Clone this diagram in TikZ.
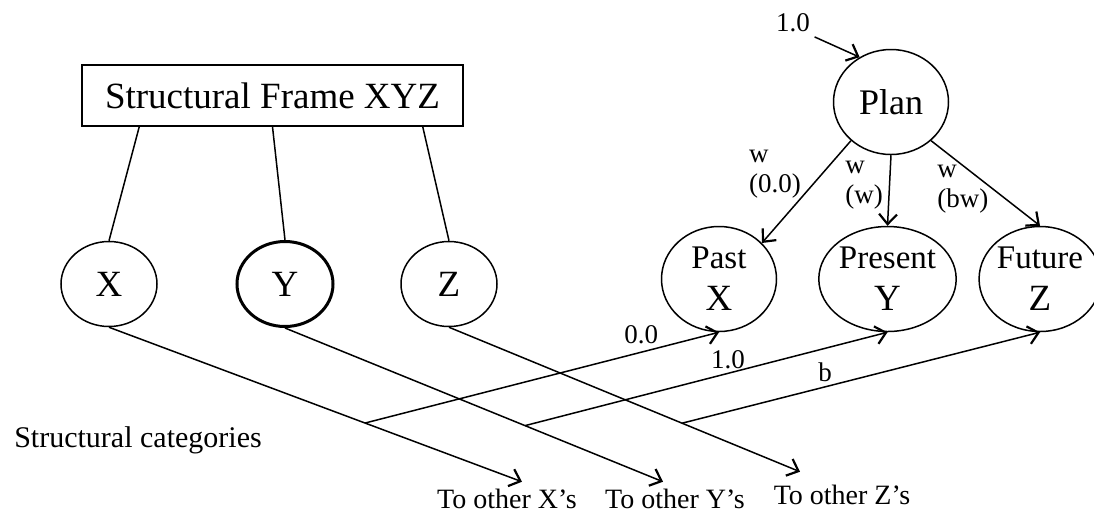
\documentclass[tikz,border=0pt]{standalone}
\usepackage{fontspec}
\setmainfont{Liberation Serif}
\usepackage{tikz}
\usetikzlibrary{shapes,arrows.meta}
\tikzstyle{cat} = [ellipse,draw,inner sep=0pt,minimum width=48pt,minimum height=42.5pt,font=\fontsize{18.5}{22}\selectfont]

\begin{document}
\begin{tikzpicture}
		[
		x=0.5pt,y=-0.5pt,
		line width=0.75pt,
		>={Straight Barb[length=5pt,width=9pt,line width=1.1pt]},
		frame/.style={
		draw,
		rectangle,
		minimum width=190.5pt,
		minimum height=30.5pt,
		inner sep=0pt,
		font=\fontsize{18.5}{22}\selectfont},
		tense/.style={
		ellipse,
		draw,
		inner sep=0pt,
		minimum width=57.5pt,
		minimum height=52.5pt,
		align=center,
		font=\fontsize{16.5}{21}\selectfont},
		lbl/.style={font=\fontsize{13.5}{15}\selectfont,inner sep=2pt},
		other/.style={font=\fontsize{14}{16}\selectfont}
		]
		\useasboundingbox (0,0) rectangle (1094,516);
		\node[frame](frame) at (272.5,95.5) {Structural Frame XYZ};
		\node[cat](x) at (109,284) {X};
		\node[cat,line width=1.5pt](y) at (285,284) {Y};
		\node[cat](z) at (449,284) {Z};
		\node[tense,font=\fontsize{18}{22}\selectfont](plan) at (891,102) {Plan};
		\node[tense](past) at (719,279) {Past\\{\fontsize{18.5}{21}\selectfont X}};
		\node[tense](present) at (887.5,279) {Present\\{\fontsize{18.5}{21}\selectfont Y}};
		\node[tense](future) at (1040,279) {Future\\{\fontsize{18.5}{21}\selectfont Z}};
		\node[lbl](start) at (793,23) {1.0};
		\node[font=\fontsize{15}{18}\selectfont](cats) at (138,440) {Structural categories};
		\node[other](otherx) at (507,499) {To other X’s};
		\node[other](othery) at (675,499) {To other Y’s};
		\node[other](otherz) at (842,495) {To other Z’s};
		
		\draw ([xshift=29pt]frame.south west) -- (x.north);
		\draw (frame.south) -- (y.north);
		\draw ([xshift=-20.5pt]frame.south east) -- (z.north);
		
		\draw[->] (x.south) -- coordinate[pos=0.62] (jx) ([xshift=7.5pt]otherx.north);
		\draw[->] (y.south) -- coordinate[pos=0.635] (jy) ([xshift=-6pt]othery.north);
		\draw[->] (z.south) -- coordinate[pos=0.664] (jz) ([xshift=-21pt,yshift=3pt]otherz.north);
		
		\draw[->] (jx) -- node[lbl,above,pos=0.78,yshift=2pt] {0.0} (past.south);
		\draw[->] (jy) -- node[lbl,above,pos=0.56] {1.0} (present.south);
		\draw[->] (jz) -- node[lbl,above,pos=0.40] {b} (future.south);
		
		\draw[->] (start.south east) -- (plan.125);
		\draw[->] (plan.224) -- node[lbl,left=8pt,pos=0.33,align=left] {w\\(0.0)} (past.40);
		\draw[->] (plan.south) -- node[lbl,left=1pt,pos=0.42,align=left] {w\\(w)} (present.north);
		\draw[->] (plan.316) -- node[lbl,left=0pt,pos=0.57,align=left] {w\\(bw)} (future.north);
\end{tikzpicture}
\end{document}
